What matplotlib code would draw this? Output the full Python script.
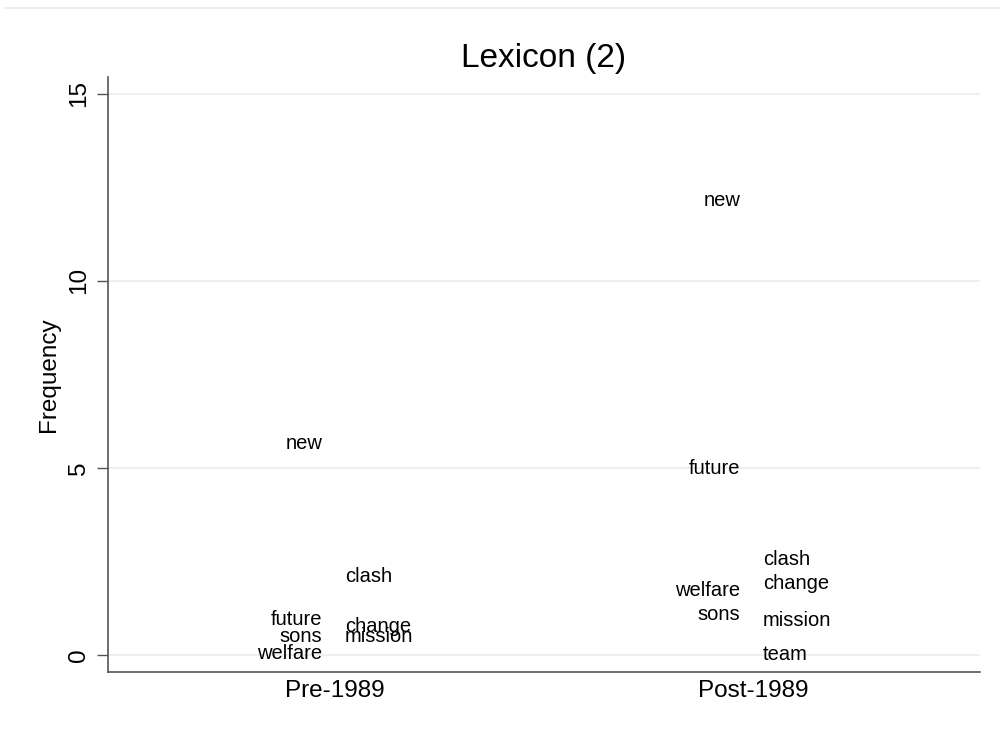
import numpy as np
import matplotlib.pyplot as plt
from matplotlib.lines import Line2D

plt.rcParams["font.family"] = ["Liberation Sans", "DejaVu Sans"]

periods = ["Pre-1989", "Post-1989"]

# words, frequency and label side (left/right of the point)
pre_words = ["new", "clash", "future", "change", "sons", "mission", "welfare"]
pre_freq = [5.66, 2.1, 0.96, 0.77, 0.48, 0.48, 0.03]
pre_side = ["left", "right", "left", "right", "left", "right", "left"]

post_words = ["new", "future", "clash", "change", "welfare", "sons", "mission", "team"]
post_freq = [12.14, 4.99, 2.56, 1.92, 1.73, 1.07, 0.91, 0.0]
post_side = ["left", "left", "right", "right", "left", "left", "right", "right"]

yticks = [0, 5, 10, 15]

fig = plt.figure(figsize=(10, 7.31), dpi=100)
ax = fig.add_axes([0.108, 0.081, 0.872, 0.814])

for xpos, words, freq, side in [
    (1, pre_words, pre_freq, pre_side),
    (2, post_words, post_freq, post_side),
]:
    for w, f, s in zip(words, freq, side):
        if s == "left":
            ax.annotate(w, (xpos, f), xytext=(-9, 0), textcoords="offset points",
                        ha="right", va="center", fontsize=14.5)
        else:
            ax.annotate(w, (xpos, f), xytext=(7, 0), textcoords="offset points",
                        ha="left", va="center", fontsize=14.5)

ax.set_xlim(0.457, 2.543)
ax.set_ylim(-0.45, 15.45)
ax.set_xticks([1, 2])
ax.set_xticklabels(periods, fontsize=17.5)
ax.tick_params(axis="x", length=0, pad=6)
ax.set_yticks(yticks)
ax.set_yticklabels([str(t) for t in yticks], fontsize=17.5, rotation=90, va="center")
ax.tick_params(axis="y", length=8, width=1, color="#555555", pad=5)

ax.grid(axis="y", color="#e8f0f1", linewidth=1.3)
ax.set_axisbelow(True)
for sp in ["top", "right"]:
    ax.spines[sp].set_visible(False)
for sp in ["left", "bottom"]:
    ax.spines[sp].set_color("#555555")
    ax.spines[sp].set_linewidth(1.2)

ax.set_ylabel("Frequency", fontsize=17.5, labelpad=6)
ax.set_title("Lexicon (2)", fontsize=24, pad=7)

# light outer frame line at the top of the image
fig.add_artist(Line2D([0.005, 1.0], [0.989, 0.989], transform=fig.transFigure,
                      color="#e3ecec", linewidth=1.2))

fig.savefig("out.png", dpi=100, facecolor="white")
